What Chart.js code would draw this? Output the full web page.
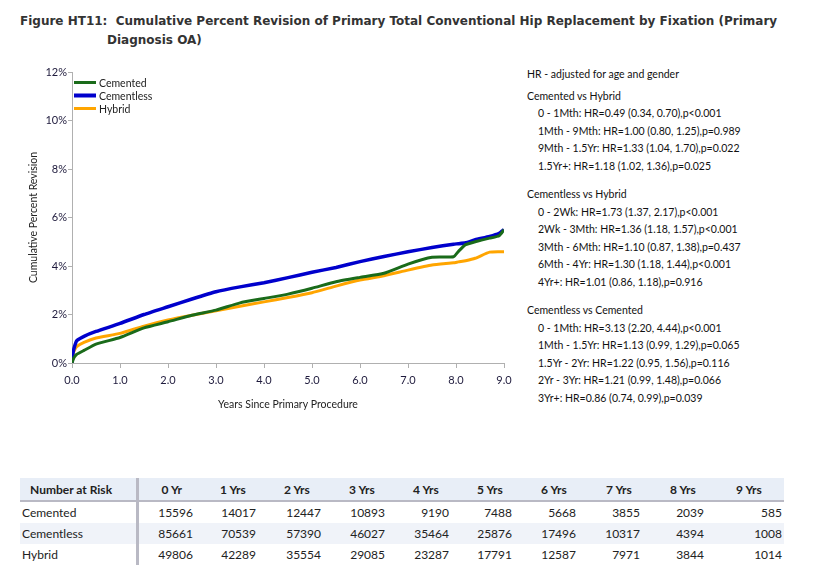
<!DOCTYPE html>
<html>
<head>
<meta charset="utf-8">
<script src="https://cdn.jsdelivr.net/npm/chart.js@4.4.1/dist/chart.umd.min.js"></script>
<style>
  body { margin: 0; background: #fff; width: 814px; height: 582px; position: relative; overflow: hidden; font-family: "Lato", sans-serif; }
  #title { position: absolute; left: 20px; top: 12px; font: bold 12px "DejaVu Sans", sans-serif; color: #333; line-height: 19px; }
  #title .indent { padding-left: 87px; }
  #chartBox { position: absolute; left: 0; top: 60px; width: 520px; height: 360px; }
  #hr { position: absolute; left: 527px; top: 66px; font: 10.5px "Lato", sans-serif; color: #111; }
  #hr div { height: 17.5px; line-height: 17.5px; white-space: nowrap; }
  #hr .first { margin-bottom: 4px; }
  #hr .item { padding-left: 11px; }
  #hr .gap { height: 11px; }
  table { position: absolute; left: 20px; top: 478px; width: 764px; table-layout: fixed; border-collapse: collapse; font: 12px "Lato", sans-serif; color: #222; }
  th { background: #e8eef7; font-weight: bold; text-align: left; height: 22px; border-bottom: 2px solid #b9b9c4; padding: 0; white-space: nowrap; }
  td { height: 21px; padding: 0; text-align: right; }
  td:first-child, th:first-child { text-align: left; padding-left: 2px; border-right: 3px solid #b9b9c4; }
  th:first-child { padding-left: 10px; }
  td:last-child { padding-right: 2px; }
  tr.shade td { background: #f0f3f9; }
</style>
</head>
<body>
<div id="title">Figure HT11:&nbsp; Cumulative Percent Revision of Primary Total Conventional Hip Replacement by Fixation (Primary<br><span class="indent">Diagnosis OA)</span></div>
<div id="chartBox"><canvas id="chart"></canvas></div>
<div id="hr"></div>
<table id="risk"></table>
<script>
// Years since primary procedure (shared time grid for the three curves)
const years = [0, 0.02, 0.05, 0.1, 0.25, 0.5, 1, 1.5, 2, 2.5, 3, 3.5, 4, 4.5, 5, 5.5, 6, 6.5, 7, 7.5, 7.95, 8.05, 8.2, 8.4, 8.7, 8.9, 9.0];

// Cumulative percent revision
const cemented = [0, 0.12, 0.25, 0.36, 0.52, 0.78, 1.05, 1.45, 1.70, 1.97, 2.18, 2.48, 2.66, 2.84, 3.08, 3.35, 3.53, 3.70, 4.08, 4.36, 4.38, 4.60, 4.88, 5.00, 5.15, 5.25, 5.50];
const cementless = [0, 0.40, 0.66, 0.92, 1.10, 1.30, 1.63, 2.00, 2.32, 2.64, 2.94, 3.14, 3.31, 3.52, 3.74, 3.94, 4.18, 4.39, 4.59, 4.76, 4.90, 4.92, 4.96, 5.08, 5.22, 5.35, 5.50];
const hybrid = [0, 0.35, 0.52, 0.68, 0.85, 1.03, 1.22, 1.52, 1.77, 1.97, 2.15, 2.34, 2.52, 2.70, 2.90, 3.17, 3.42, 3.60, 3.83, 4.04, 4.13, 4.17, 4.22, 4.32, 4.57, 4.59, 4.59];

const seriesNames = ["Cemented", "Cementless", "Hybrid"];
const seriesColors = ["#1a6b1a", "#0000cc", "#ffa500"];

// Hazard ratio notes
const hrNotes = [
  { head: "Cemented vs Hybrid", rows: [
    "0 - 1Mth: HR=0.49 (0.34, 0.70),p<0.001",
    "1Mth - 9Mth: HR=1.00 (0.80, 1.25),p=0.989",
    "9Mth - 1.5Yr: HR=1.33 (1.04, 1.70),p=0.022",
    "1.5Yr+: HR=1.18 (1.02, 1.36),p=0.025" ] },
  { head: "Cementless vs Hybrid", rows: [
    "0 - 2Wk: HR=1.73 (1.37, 2.17),p<0.001",
    "2Wk - 3Mth: HR=1.36 (1.18, 1.57),p<0.001",
    "3Mth - 6Mth: HR=1.10 (0.87, 1.38),p=0.437",
    "6Mth - 4Yr: HR=1.30 (1.18, 1.44),p<0.001",
    "4Yr+: HR=1.01 (0.86, 1.18),p=0.916" ] },
  { head: "Cementless vs Cemented", rows: [
    "0 - 1Mth: HR=3.13 (2.20, 4.44),p<0.001",
    "1Mth - 1.5Yr: HR=1.13 (0.99, 1.29),p=0.065",
    "1.5Yr - 2Yr: HR=1.22 (0.95, 1.56),p=0.116",
    "2Yr - 3Yr: HR=1.21 (0.99, 1.48),p=0.066",
    "3Yr+: HR=0.86 (0.74, 0.99),p=0.039" ] }
];

// Number at risk table
const riskCols = ["0 Yr", "1 Yrs", "2 Yrs", "3 Yrs", "4 Yrs", "5 Yrs", "6 Yrs", "7 Yrs", "8 Yrs", "9 Yrs"];
const riskCemented = [15596, 14017, 12447, 10893, 9190, 7488, 5668, 3855, 2039, 585];
const riskCementless = [85661, 70539, 57390, 46027, 35464, 25876, 17496, 10317, 4394, 1008];
const riskHybrid = [49806, 42289, 35554, 29085, 23287, 17791, 12587, 7971, 3844, 1014];

// HR text block
let hrHtml = '<div class="first">HR - adjusted for age and gender</div>';
hrNotes.forEach((g, gi) => {
  if (gi > 0) hrHtml += '<div class="gap"></div>';
  hrHtml += "<div>" + g.head + "</div>";
  g.rows.forEach(r => { hrHtml += '<div class="item">' + r.replace(/</g, "&lt;") + "</div>"; });
});
document.getElementById("hr").innerHTML = hrHtml;

// Risk table
const colWidths = [117, 56, 63, 65, 64, 64, 63, 64, 64, 64, 80];
const headPad = [23, 27, 28, 28, 28, 28, 29, 30, 30, 32];
let tHtml = "<colgroup>" + colWidths.map(w => "<col style='width:" + w + "px'>").join("") + "</colgroup>";
tHtml += "<tr><th>Number at Risk</th>";
riskCols.forEach((c, i) => { tHtml += "<th style='padding-left:" + headPad[i] + "px'>" + c + "</th>"; });
tHtml += "</tr>";
[[seriesNames[0], riskCemented, ""], [seriesNames[1], riskCementless, "shade"], [seriesNames[2], riskHybrid, ""]].forEach(r => {
  tHtml += "<tr class='" + r[2] + "'><td>" + r[0] + "</td>";
  r[1].forEach(v => { tHtml += "<td>" + v + "</td>"; });
  tHtml += "</tr>";
});
document.getElementById("risk").innerHTML = tHtml;

// Legend drawn inside the plot, top left
const innerLegend = {
  id: "innerLegend",
  afterDraw(chart) {
    const ctx = chart.ctx;
    const x0 = chart.chartArea.left + 2;
    ctx.save();
    ctx.font = "10.5px Lato";
    ctx.textBaseline = "middle";
    chart.data.datasets.forEach((ds, i) => {
      const y = 22.5 + i * 13;
      ctx.strokeStyle = ds.borderColor;
      ctx.lineWidth = i == 1 ? 4 : 3;
      ctx.beginPath();
      ctx.moveTo(x0, y);
      ctx.lineTo(x0 + 22, y);
      ctx.stroke();
      ctx.fillStyle = "#222";
      ctx.fillText(ds.label, x0 + 25, y + 1);
    });
    ctx.restore();
  }
};

const toPoints = vals => years.map((t, i) => ({ x: t, y: vals[i] }));

new Chart(document.getElementById("chart"), {
  type: "line",
  plugins: [innerLegend],
  data: {
    datasets: [cemented, cementless, hybrid].map((vals, i) => ({
      label: seriesNames[i],
      data: toPoints(vals),
      borderColor: seriesColors[i],
      borderWidth: i == 1 ? 3.5 : 3,
      pointRadius: 0,
      tension: 0.15,
      fill: false
    }))
  },
  options: {
    responsive: true,
    maintainAspectRatio: false,
    animation: false,
    layout: { padding: { top: 12, right: 16, left: 0, bottom: 0 } },
    plugins: { legend: { display: false }, tooltip: { enabled: false } },
    scales: {
      x: {
        type: "linear",
        min: 0, max: 9,
        afterFit: s => { s.height = 57; },
        grid: { drawOnChartArea: false, tickLength: 5, color: "#b0b0b0" },
        border: { color: "#b0b0b0" },
        ticks: { stepSize: 1, color: "#1e1a3c", font: { family: "Lato", size: 11 }, padding: 6, maxRotation: 0,
          callback: v => v.toFixed(1) },
        title: { display: true, text: "Years Since Primary Procedure", color: "#222", font: { family: "Lato", size: 10.5 }, padding: { bottom: 9 } }
      },
      y: {
        min: 0, max: 12,
        afterFit: s => { s.width = 72; },
        grid: { drawOnChartArea: false, tickLength: 4, color: "#b0b0b0" },
        border: { color: "#b0b0b0" },
        ticks: { stepSize: 2, color: "#1e1a3c", font: { family: "Lato", size: 11 }, padding: 1,
          callback: v => v + "%" },
        title: { display: true, text: "Cumulative Percent Revision", color: "#222", font: { family: "Lato", size: 10.5 }, padding: { top: 27 } }
      }
    }
  }
});
</script>
</body>
</html>
